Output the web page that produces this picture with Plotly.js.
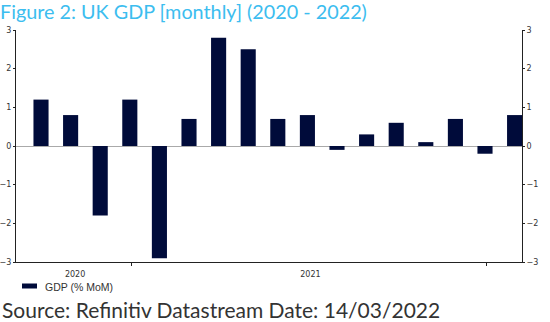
<!DOCTYPE html>
<html><head><meta charset="utf-8">
<script src="https://cdn.plot.ly/plotly-3.0.1.min.js"></script>
<style>html,body{margin:0;padding:0;background:#fff;}#chart{width:550px;height:322px;}</style>
</head><body><div id="chart"></div>
<script>
// Months Sep 2020 .. Jan 2022
const months = ['Sep 2020','Oct 2020','Nov 2020','Dec 2020','Jan 2021','Feb 2021','Mar 2021','Apr 2021','May 2021','Jun 2021','Jul 2021','Aug 2021','Sep 2021','Oct 2021','Nov 2021','Dec 2021','Jan 2022'];
const gdpMoM = [1.2, 0.8, -1.8, 1.2, -2.9, 0.7, 2.8, 2.5, 0.7, 0.8, -0.1, 0.3, 0.6, 0.1, 0.7, -0.2, 0.8];
const seriesName = 'GDP (% MoM)';
const yearLabels = ['2020', '2021'];
const yearLabelPos = [1.15, 9.1];
const yearBoundaryTicks = [3.05, 15.05];
const yTicks = [-3, -2, -1, 0, 1, 2, 3];

const idx = months.map((m, i) => i);
const barColor = '#000b3a';
const tickFont = {family: 'DejaVu Sans, Verdana, sans-serif', size: 8, color: '#333'};

const W = 550, H = 322, M = {l: 16, r: 28, t: 30, b: 60};
const PW = W - M.l - M.r, PH = H - M.t - M.b;
const px = x => (x - M.l) / PW;          // pixel -> paper x
const py = y => (H - M.b - y) / PH;      // pixel -> paper y

const traces = [
  {type: 'bar', x: idx, y: gdpMoM, name: seriesName, width: 0.51, showlegend: false,
   marker: {color: barColor, line: {width: 0}}, hovertext: months, hoverinfo: 'text+y'},
  {type: 'scatter', x: [], y: [], yaxis: 'y2', showlegend: false, hoverinfo: 'skip'}
];

const layout = {
  width: W, height: H,
  margin: M,
  paper_bgcolor: '#fff', plot_bgcolor: '#fff',
  title: {text: 'Figure 2: UK GDP [monthly] (2020 - 2022)', x: 0, xref: 'container', xanchor: 'left',
          y: 1 - 12.5 / H, yref: 'container', yanchor: 'middle',
          font: {family: 'Lato, Noto Sans, sans-serif', size: 19.8, color: '#3cbdef'}},
  showlegend: false,
  xaxis: {range: [-0.845, 16.25], tickvals: yearLabelPos, ticktext: yearLabels, ticks: '', ticklen: 0,
          automargin: false,
          showgrid: false, zeroline: false, showline: true, linecolor: '#222', linewidth: 1,
          tickfont: tickFont, ticklabelstandoff: 4,
          minor: {tickvals: yearBoundaryTicks, ticks: 'outside', ticklen: 3, tickcolor: '#222', showgrid: false}},
  yaxis: {range: [-3, 3], tickvals: yTicks, showgrid: false, zeroline: true, zerolinecolor: '#aaa', zerolinewidth: 1,
          automargin: false,
          showline: true, linecolor: '#222', linewidth: 1, ticks: 'outside', ticklen: 2, tickcolor: '#222',
          tickfont: tickFont},
  yaxis2: {range: [-3, 3], tickvals: yTicks, overlaying: 'y', side: 'right', showgrid: false, zeroline: false,
           automargin: false,
           showline: true, linecolor: '#222', linewidth: 1, ticks: 'outside', ticklen: 2, tickcolor: '#222',
           tickfont: tickFont},
  shapes: [
    // legend swatch
    {type: 'rect', xref: 'paper', yref: 'paper', x0: px(22), x1: px(37), y0: py(288.5), y1: py(283.5),
     fillcolor: barColor, line: {width: 0}}
  ],
  annotations: [
    {text: seriesName, xref: 'paper', yref: 'paper', x: px(43), y: py(287), xanchor: 'left', yanchor: 'middle',
     showarrow: false, font: {family: 'Arial, Liberation Sans, sans-serif', size: 10.5, color: '#333'}},
    {text: 'Source: Refinitiv Datastream Date: 14/03/2022', xref: 'paper', yref: 'paper',
     x: px(0), y: py(309), xanchor: 'left', yanchor: 'middle', showarrow: false,
     font: {family: 'Lato, Noto Sans, sans-serif', size: 21, color: '#333'}}
  ]
};

Plotly.newPlot('chart', traces, layout, {displayModeBar: false, staticPlot: true});
</script></body></html>
